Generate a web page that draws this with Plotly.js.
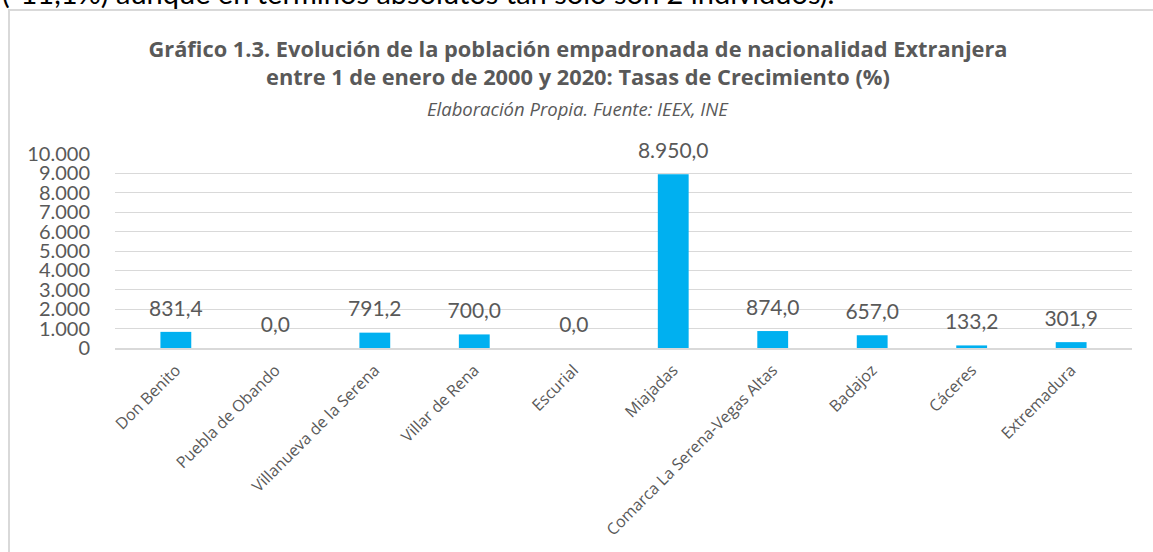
<!DOCTYPE html>
<html>
<head>
<meta charset="utf-8">
<script src="https://cdn.plot.ly/plotly-3.0.1.min.js"></script>
<style>
  body { margin: 0; background: #fff; overflow: hidden; }
  #frame {
    position: absolute; left: 8px; top: 9px;
    width: 1200px; height: 600px;
    border: 2px solid #d9d9d9;
  }
  #myDiv { position: absolute; left: 0; top: 0; }
</style>
</head>
<body>
<div id="frame"></div>
<div id="myDiv"></div>
<script>
// categorías y tasas de crecimiento (%)
const categories = [
  "Don Benito",
  "Puebla de Obando",
  "Villanueva de la Serena",
  "Villar de Rena",
  "Escurial",
  "Miajadas",
  "Comarca La Serena-Vegas Altas",
  "Badajoz",
  "Cáceres",
  "Extremadura",
];
const growthRates = [831.4, 0.0, 791.2, 700.0, 0.0, 8950.0, 874.0, 657.0, 133.2, 301.9];
const yTicks = [0, 1000, 2000, 3000, 4000, 5000, 6000, 7000, 8000, 9000, 10000];

const W = 1153;
const H = 552;
const margin = { l: 115, r: 21, t: 154, b: 204 };
const plotH = H - margin.t - margin.b;

// px from top -> paper fraction
function yPaper(px) {
  return 1 - (px - margin.t) / plotH;
}

const textColor = "#595959";
const font = "Lato, 'Open Sans', sans-serif";
const wideFont = "'Open Sans', sans-serif";

let trace1 = {
  x: categories,
  y: growthRates,
  type: "bar",
  marker: { color: "#00b0f0" },
  hoverinfo: "none",
};

// labels above the bars (invisible marker keeps a gap like excel)
let trace2 = {
  x: categories,
  y: growthRates,
  mode: "markers+text",
  marker: { size: 16, color: "rgba(0,0,0,0)" },
  texttemplate: "%{y:,.1f}",
  textposition: "top center",
  textfont: { color: textColor, size: 21, family: font },
  cliponaxis: false,
  hoverinfo: "none",
};

let layout = {
  width: W,
  height: H,
  margin: margin,
  showlegend: false,
  separators: ",.",
  paper_bgcolor: "rgba(0,0,0,0)",
  plot_bgcolor: "rgba(0,0,0,0)",
  bargap: 0.69,
  font: { family: font, color: textColor },
  title: {
    text:
      "<b>Gráfico 1.3. Evolución de la población empadronada de nacionalidad Extranjera<br>entre 1 de enero de 2000 y 2020: Tasas de Crecimiento (%)</b>",
    font: { size: 21.8, color: textColor, family: wideFont },
    xref: "container",
    yref: "container",
    x: 578 / W,
    xanchor: "center",
    y: 1 - 57 / H,
    yanchor: "middle",
  },
  xaxis: {
    type: "category",
    tickangle: -45,
    tickfont: { size: 16, color: textColor, family: wideFont },
    ticks: "outside",
    ticklen: 5,
    tickcolor: "rgba(0,0,0,0)",
    showline: true,
    linecolor: "#d9d9d9",
    linewidth: 1.5,
    showgrid: false,
    fixedrange: true,
  },
  yaxis: {
    range: [0, 10000],
    tickvals: yTicks,
    tickformat: ",d",
    tickfont: { size: 20, color: textColor },
    ticks: "outside",
    ticklen: 20,
    tickcolor: "rgba(0,0,0,0)",
    showgrid: true,
    gridcolor: "#d9d9d9",
    gridwidth: 1,
    zeroline: false,
    fixedrange: true,
  },
  annotations: [
    {
      text: "<i>Elaboración Propia. Fuente: IEEX, INE</i>",
      xref: "paper",
      yref: "paper",
      x: (578 - margin.l) / (W - margin.l - margin.r),
      y: yPaper(108),
      xanchor: "center",
      yanchor: "middle",
      showarrow: false,
      font: { size: 18.5, color: textColor, family: wideFont },
    },
    {
      text: "(-11,1%) aunque en términos absolutos tan solo son 2 individuos).",
      xref: "paper",
      yref: "paper",
      x: (0 - margin.l) / (W - margin.l - margin.r),
      y: yPaper(-7),
      xanchor: "left",
      yanchor: "middle",
      showarrow: false,
      font: { size: 29, color: "#000000", family: font },
    },
  ],
};

Plotly.newPlot("myDiv", [trace1, trace2], layout, { staticPlot: true });
</script>
</body>
</html>
